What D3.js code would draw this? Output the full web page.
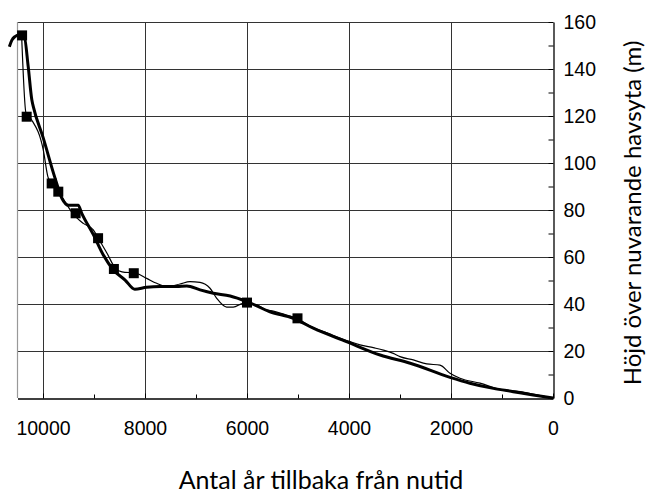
<!DOCTYPE html>
<html>
<head>
<meta charset="utf-8">
<script src="https://cdn.jsdelivr.net/npm/d3@7"></script>
<style>
  html, body { margin: 0; padding: 0; background: #fff; }
  svg { display: block; }
  .tick text { font-family: "Liberation Sans", Arial, sans-serif; font-size: 19.5px; fill: #000; }
  .title { font-family: Lato, "Open Sans", sans-serif; fill: #000; }
</style>
</head>
<body>
<svg id="chart" width="660" height="493"></svg>
<script>
// Shoreline displacement: height above present sea level (m) vs. years before present

// Smoothed curve (thick line): [years before present, height in m]
const curveYears = [10660, 10610, 10550, 10470, 10370, 10290, 10220, 10190, 10000, 9770, 9630, 9500, 9310, 9240, 9010, 8820, 8620, 8390, 8200, 7970, 7700, 7380, 7180, 6920, 6660, 6330, 6000, 5550, 5090, 4700, 4050, 3390, 2800, 2020, 1630, 1170, 780, 390, 0];
const curveHeights = [149.5, 152.3, 153.8, 154.5, 154, 141, 127, 124, 111, 94, 85, 82, 82, 78.6, 69.4, 61, 54.5, 50.2, 46.3, 47.1, 47.4, 47.4, 47.7, 46, 44.6, 43.4, 41, 36.7, 33.9, 29.7, 24, 18.3, 14.8, 8.8, 6.3, 4.1, 2.7, 1.3, 0];

// Detailed record (thin line)
const recordYears = [10418, 10333, 10222, 9994, 9902, 9829, 9700, 9569, 9418, 9210, 9014, 8916, 8745, 8569, 8451, 8176, 7967, 7771, 7575, 7314, 7118, 6922, 6725, 6594, 6398, 6269, 6073, 5810, 5614, 5484, 5255, 5020, 4765, 4373, 3980, 3784, 3524, 3327, 3131, 3000, 2739, 2476, 2216, 2020, 1824, 1431, 1039, 647, 320, 0];
const recordHeights = [153.7, 121.1, 118.3, 105.5, 94, 91.4, 87.8, 83.5, 78.6, 74.3, 71.5, 68, 61.6, 54.9, 53.7, 53.1, 50.9, 48.8, 47.4, 48.5, 49.5, 49.2, 46.7, 42.4, 38.7, 38.7, 40.3, 39.6, 37.4, 37, 35.5, 33.8, 30.6, 27.2, 24, 22.6, 21.4, 20.4, 19, 17.6, 16.2, 14.5, 14, 10.5, 8.4, 6.3, 3.7, 2.7, 1.3, 0];

// Dated samples (square markers)
const sampleYears = [10410, 10320, 9830, 9700, 9360, 8920, 8610, 8220, 6000, 5010];
const sampleHeights = [154.3, 119.7, 91.3, 87.8, 78.6, 68, 54.9, 53.1, 40.6, 33.9];

// Axis ticks
const xMajorTicks = [10000, 8000, 6000, 4000, 2000, 0];
const xMinorTicks = [9000, 7000, 5000, 3000, 1000];
const yMajorTicks = [0, 20, 40, 60, 80, 100, 120, 140, 160];
const yMinorTicks = [10, 30, 50, 70, 90, 110, 130, 150];

const xTitle = "Antal år tillbaka från nutid";
const yTitle = "Höjd över nuvarande havsyta (m)";

const svg = d3.select("#chart");

const x = d3.scaleLinear().domain([10500, 0]).range([17.5, 553]);
const y = d3.scaleLinear().domain([0, 160]).range([398, 22]);
const [plotLeft, plotRight] = x.range();
const [plotBottom, plotTop] = y.range();

// Gridlines
const grid = svg.append("g").attr("stroke", "#333").attr("stroke-width", 1);
grid.selectAll("line.h")
  .data(yMajorTicks.filter(d => d > 0))
  .join("line")
  .attr("x1", plotLeft).attr("x2", plotRight)
  .attr("y1", d => Math.round(y(d)) + 0.5).attr("y2", d => Math.round(y(d)) + 0.5);
grid.selectAll("line.v")
  .data(xMajorTicks.filter(d => d > 0))
  .join("line")
  .attr("x1", d => Math.round(x(d)) + 0.5).attr("x2", d => Math.round(x(d)) + 0.5)
  .attr("y1", plotTop).attr("y2", plotBottom);

// Left frame edge
svg.append("line")
  .attr("x1", plotLeft).attr("x2", plotLeft)
  .attr("y1", plotTop).attr("y2", plotBottom)
  .attr("stroke", "#999").attr("stroke-width", 1.2);

// Bottom axis
svg.append("g")
  .attr("transform", `translate(0,${Math.round(plotBottom) + 0.5})`)
  .call(d3.axisBottom(x).tickValues(xMajorTicks).tickFormat(d3.format("d"))
    .tickSize(-5).tickSizeOuter(0).tickPadding(23));
svg.append("g")
  .attr("transform", `translate(0,${Math.round(plotBottom) + 0.5})`)
  .call(d3.axisBottom(x).tickValues(xMinorTicks).tickFormat("")
    .tickSize(-4).tickSizeOuter(0))
  .call(g => g.select(".domain").remove());

// Right axis
svg.append("g")
  .attr("transform", `translate(${Math.round(plotRight) + 0.5},0)`)
  .call(d3.axisRight(y).tickValues(yMajorTicks)
    .tickSize(-5).tickSizeOuter(0).tickPadding(10));
svg.append("g")
  .attr("transform", `translate(${Math.round(plotRight) + 0.5},0)`)
  .call(d3.axisRight(y).tickValues(yMinorTicks).tickFormat("")
    .tickSize(-5).tickSizeOuter(0))
  .call(g => g.select(".domain").remove());

svg.selectAll(".domain").attr("stroke", "#000").attr("stroke-width", 1.3);
svg.selectAll(".tick line").attr("stroke", "#000");

// Lines
const lineGen = d3.line()
  .x(d => x(d[0]))
  .y(d => y(d[1]))
  .curve(d3.curveMonotoneX);

const recordData = recordYears.map((yr, i) => [yr, recordHeights[i]]);
const curveData = curveYears.map((yr, i) => [yr, curveHeights[i]]);

svg.append("path")
  .datum(recordData)
  .attr("d", lineGen)
  .attr("fill", "none")
  .attr("stroke", "#000")
  .attr("stroke-width", 1.2)
  .attr("stroke-linejoin", "round");

svg.append("path")
  .datum(curveData)
  .attr("d", lineGen)
  .attr("fill", "none")
  .attr("stroke", "#000")
  .attr("stroke-width", 3)
  .attr("stroke-linejoin", "round");

// Sample markers
const size = 10;
svg.append("g")
  .selectAll("rect")
  .data(sampleYears.map((yr, i) => [yr, sampleHeights[i]]))
  .join("rect")
  .attr("x", d => x(d[0]) - size / 2)
  .attr("y", d => y(d[1]) - size / 2)
  .attr("width", size)
  .attr("height", size)
  .attr("fill", "#000");

// Titles
svg.append("text")
  .attr("class", "title")
  .attr("x", 321)
  .attr("y", 489)
  .attr("text-anchor", "middle")
  .style("font-size", "25px")
  .text(xTitle);

svg.append("text")
  .attr("class", "title")
  .attr("transform", "translate(641,213) rotate(-90)")
  .attr("text-anchor", "middle")
  .style("font-size", "24px")
  .text(yTitle);
</script>
</body>
</html>
